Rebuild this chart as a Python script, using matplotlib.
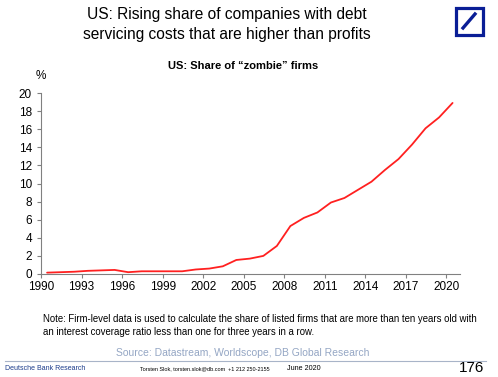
import matplotlib.pyplot as plt
from matplotlib.patches import Rectangle
from matplotlib.lines import Line2D
import numpy as np

plt.rcParams['font.family'] = ['Liberation Sans', 'DejaVu Sans']

# Share of "zombie" firms in the US, % (annual)
years = np.arange(1990, 2021)
share = [0.15, 0.2, 0.25, 0.35, 0.4, 0.45, 0.2, 0.3, 0.3, 0.3,
         0.3, 0.5, 0.6, 0.85, 1.55, 1.7, 2.0, 3.1, 5.3, 6.2,
         6.8, 7.9, 8.4, 9.3, 10.2, 11.5, 12.7, 14.3, 16.1, 17.3, 18.9]
tick_years = list(range(1990, 2021, 3))
y_ticks = list(range(0, 21, 2))

W, H = 498, 377
fig = plt.figure(figsize=(W / 100, H / 100), dpi=100)

# axes: x 41..460 px, y 93..274 px
ax = fig.add_axes([41 / W, 1 - 274 / H, (460 - 41) / W, (274 - 93) / H])
# annual values plotted at mid-year
ax.plot(years + 0.45, share, color='#ff2020', lw=1.3, solid_capstyle='round')
ax.set_xlim(1990, 2021)
ax.set_ylim(0, 20)
ax.set_xticks(tick_years)
ax.set_yticks(y_ticks)
for s in ['top', 'right']:
    ax.spines[s].set_visible(False)
for s in ['left', 'bottom']:
    ax.spines[s].set_color('#808080')
    ax.spines[s].set_linewidth(0.8)
ax.tick_params(axis='both', colors='#808080', labelcolor='black',
               labelsize=8.5, length=3, width=0.8, direction='out')
ax.tick_params(axis='x', pad=2)

# titles
fig.text(227 / W, 1 - 14 / H, 'US: Rising share of companies with debt',
         ha='center', va='center', fontsize=11.2)
fig.text(227 / W, 1 - 34 / H, 'servicing costs that are higher than profits',
         ha='center', va='center', fontsize=11.2)
fig.text(243 / W, 1 - 66 / H, 'US: Share of \u201czombie\u201d firms',
         ha='center', va='center', fontsize=8, fontweight='bold')
fig.text(41 / W, 1 - 76 / H, '%', ha='center', va='center', fontsize=8.5)

# logo
blue = '#0a1e96'
fig.add_artist(Rectangle((455.5 / W, 1 - 34.5 / H), 27 / W, 27 / H,
                         transform=fig.transFigure, fill=False,
                         edgecolor=blue, lw=2.3))
fig.add_artist(Line2D([463 / W, 475 / W], [1 - 28 / H, 1 - 14 / H],
                      transform=fig.transFigure, color=blue, lw=2.4))

# note
fig.text(43 / W, 1 - 319 / H,
         'Note: Firm-level data is used to calculate the share of listed firms '
         'that are more than ten years old with',
         ha='left', va='center', fontsize=6.9)
fig.text(43 / W, 1 - 332 / H,
         'an interest coverage ratio less than one for three years in a row.',
         ha='left', va='center', fontsize=6.9)

# source and footer
fig.text(243 / W, 1 - 353 / H,
         'Source: Datastream, Worldscope, DB Global Research',
         ha='center', va='center', fontsize=7.5, color='#94a6c4')
fig.add_artist(Line2D([5 / W, 486 / W], [1 - 361 / H, 1 - 361 / H],
                      transform=fig.transFigure, color='#a8b4c8', lw=0.8))
fig.text(5 / W, 1 - 369 / H, 'Deutsche Bank Research', ha='left',
         va='center', fontsize=5, color='#1a3a8a')
fig.text(140 / W, 1 - 369 / H,
         'Torsten Slok, torsten.slok@db.com  +1 212 250-2155', ha='left',
         va='center', fontsize=4)
fig.text(287 / W, 1 - 369 / H, 'June 2020', ha='left', va='center',
         fontsize=5.2)
fig.text(484 / W, 1 - 368 / H, '176', ha='right', va='center', fontsize=11)

fig.savefig('out.png', dpi=100)
